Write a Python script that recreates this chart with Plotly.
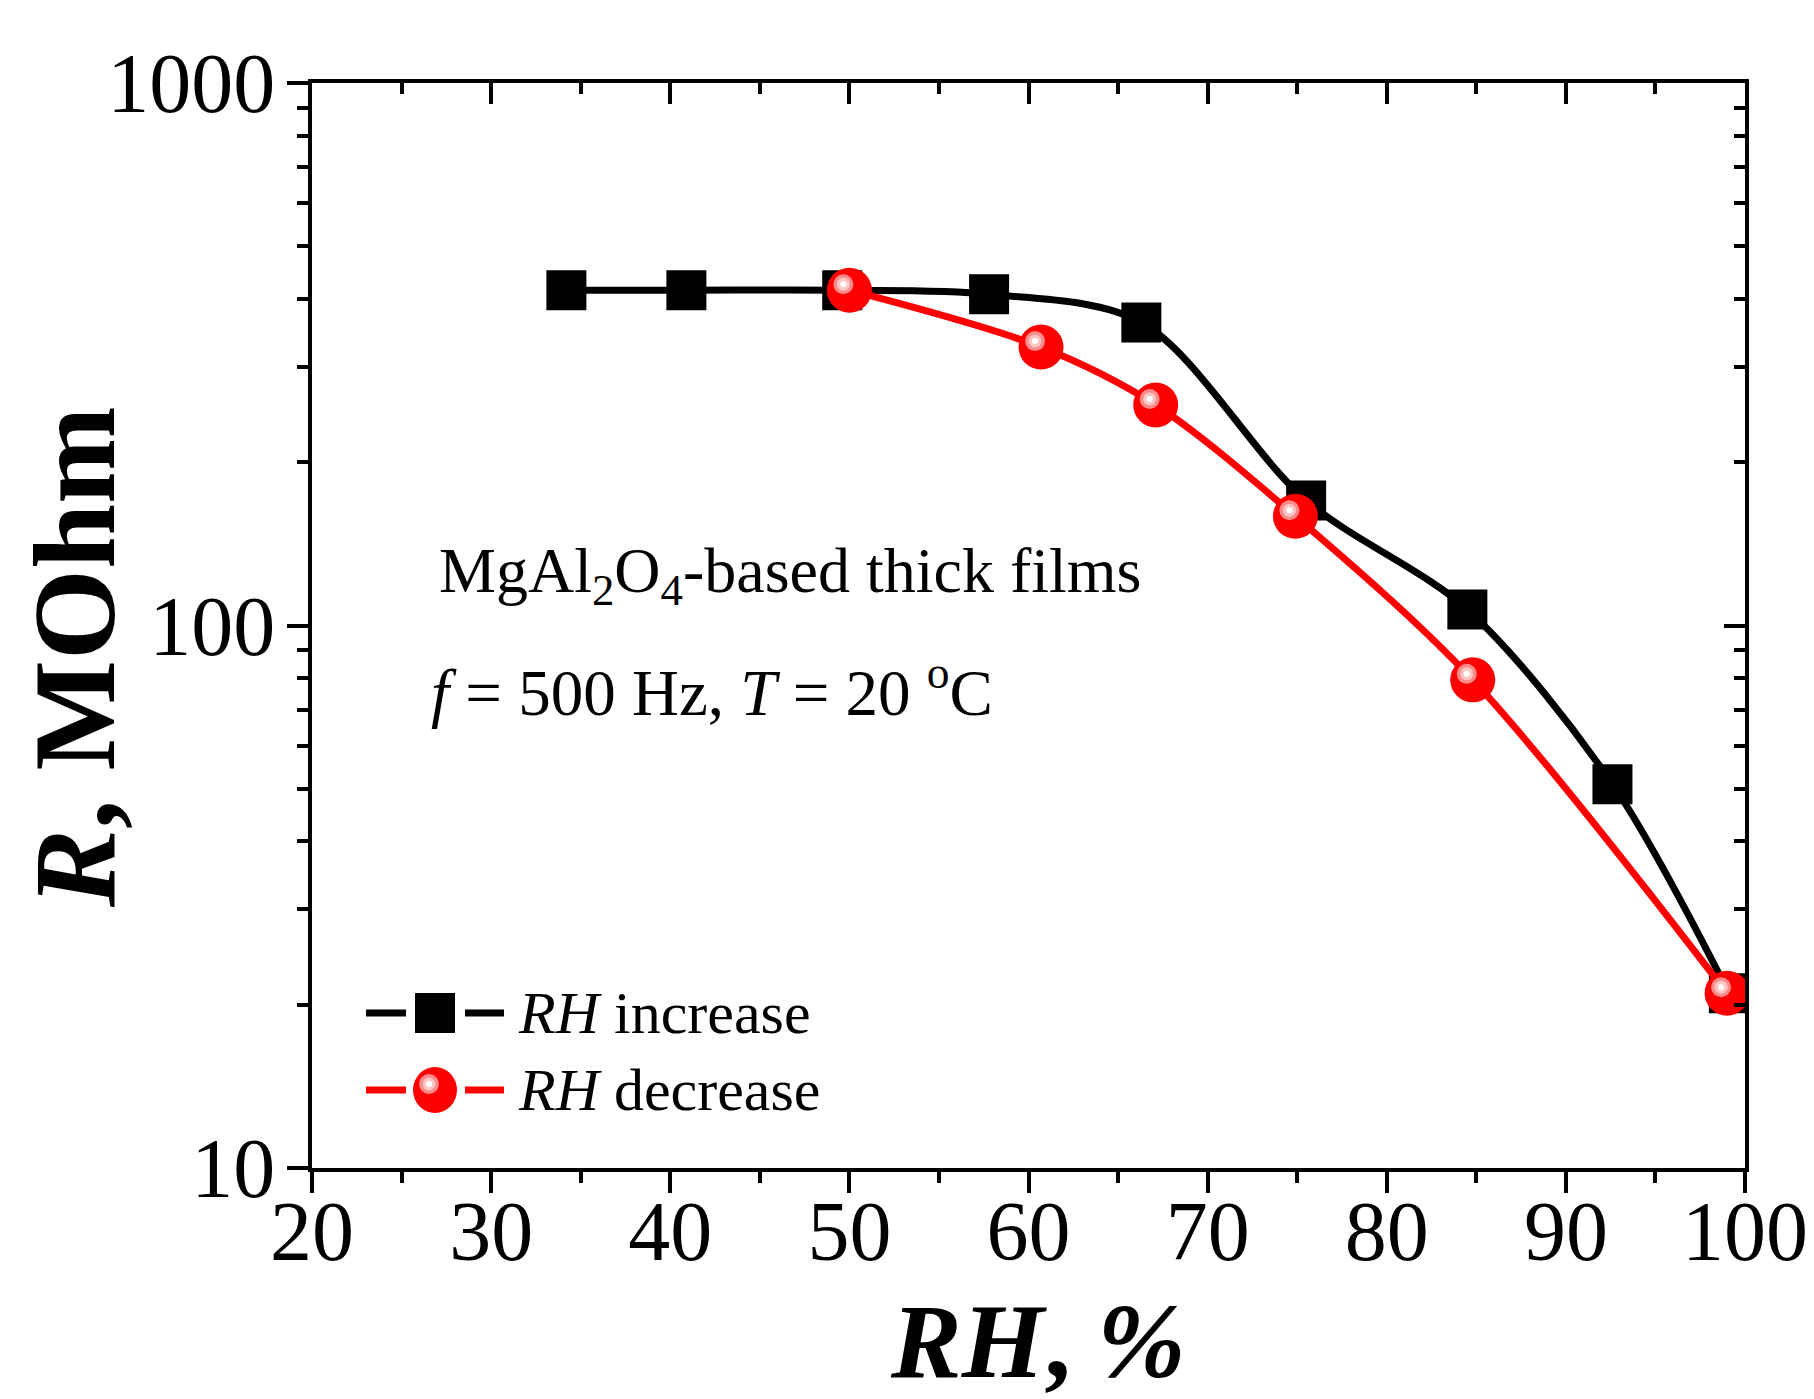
import plotly.graph_objects as go

# ---- data ----
rh_inc = [34.2, 40.9, 49.6, 57.8, 66.3, 75.5, 84.5, 92.6, 99.1]
r_inc = [415, 415, 415, 408, 362, 170, 107, 51, 21]
rh_dec = [50.0, 60.7, 67.1, 74.9, 84.8, 99.0]
r_dec = [415, 326, 255, 159, 79.4, 21]
x_ticks = [20, 30, 40, 50, 60, 70, 80, 90, 100]
x_minor = [25, 35, 45, 55, 65, 75, 85, 95]
y_ticks = [10, 100, 1000]
y_ticktext = ["10", "100", "1000"]
y_minor = [20, 30, 40, 50, 60, 70, 80, 90, 200, 300, 400, 500, 600, 700, 800, 900]
series_names = ["<i>RH</i> increase", "<i>RH</i> decrease"]

FONT = "Liberation Serif"
W, H = 1814, 1399
L, R, T, B = 304, 77, 75, 239
pw, ph = W - L - R, H - T - B
XR = [20, 100]
YR = [1, 3]
RED = "#ff0000"
HL = [(20, "#ff8a8a"), (13, "#ffc6c6"), (6, "#ffffff")]
# highlight offset (pixels) for the glossy circles
off_px = 6
dx = off_px * (XR[1] - XR[0]) / pw
dy = off_px * (YR[1] - YR[0]) / ph


def px(x):
    return (x - L) / pw


def py(y):
    return (H - B - y) / ph


fig = go.Figure()
fig.add_trace(go.Scatter(
    x=rh_inc, y=r_inc, mode="lines+markers", name=series_names[0],
    line=dict(color="black", width=7, shape="spline", smoothing=0.9),
    marker=dict(symbol="square", size=40, color="black"),
))
fig.add_trace(go.Scatter(
    x=rh_dec, y=r_dec, mode="lines+markers", name=series_names[1],
    line=dict(color=RED, width=7, shape="spline", smoothing=0.9),
    marker=dict(symbol="circle", size=45, color=RED),
))
for sz, col in HL:
    fig.add_trace(go.Scatter(
        x=rh_dec, y=r_dec, mode="markers", showlegend=False, hoverinfo="skip",
        xaxis="x2", yaxis="y2",
        marker=dict(symbol="circle", size=sz, color=col),
    ))
fig.add_trace(go.Scatter(x=[None], y=[None], xaxis="x3", yaxis="y3",
                         showlegend=False, hoverinfo="skip"))
fig.add_trace(go.Scatter(x=[None], y=[None], xaxis="x4", yaxis="y",
                         showlegend=False, hoverinfo="skip"))

tickfont = dict(family=FONT, size=84, color="black")
common = dict(showgrid=False, zeroline=False, linecolor="black", linewidth=4,
              tickcolor="black", tickwidth=4, showline=True)

fig.update_layout(
    width=W, height=H,
    margin=dict(l=L, r=R, t=T, b=B, pad=0),
    paper_bgcolor="white", plot_bgcolor="white",
    font=dict(family=FONT, color="black"),
    showlegend=False,
    xaxis=dict(range=XR, tickvals=x_ticks, ticks="outside", ticklen=21,
               showticklabels=False,
               minor=dict(tickvals=x_minor, ticks="outside", ticklen=11,
                          tickwidth=4, tickcolor="black"),
               **common),
    xaxis4=dict(overlaying="x", anchor="free", position=0, side="bottom",
                range=XR, tickvals=x_ticks, ticks="", showline=False, showgrid=False,
                zeroline=False, tickfont=tickfont, ticklabelstandoff=7),
    yaxis=dict(type="log", range=YR, tickvals=y_ticks, ticktext=y_ticktext,
               ticks="outside", ticklen=21, tickfont=tickfont, ticklabelstandoff=-5,
               minor=dict(tickvals=y_minor, ticks="outside", ticklen=11,
                          tickwidth=4, tickcolor="black"),
               **common),
    xaxis2=dict(overlaying="x", range=[XR[0] + dx, XR[1] + dx], visible=False),
    yaxis2=dict(overlaying="y", type="log", range=[YR[0] - dy, YR[1] - dy], visible=False),
    xaxis3=dict(overlaying="x", anchor="y3", side="top", range=XR, tickvals=x_ticks,
                ticks="inside", ticklen=21, showticklabels=False,
                minor=dict(tickvals=x_minor, ticks="inside", ticklen=11,
                           tickwidth=4, tickcolor="black"),
                **common),
    yaxis3=dict(overlaying="y", anchor="x3", side="right", type="log", range=YR,
                tickvals=y_ticks, ticks="inside", ticklen=21, showticklabels=False,
                minor=dict(tickvals=y_minor, ticks="inside", ticklen=11,
                           tickwidth=4, tickcolor="black"),
                **common),
)

# ---- custom legend (symbols larger than plotly's legend allows) ----
shapes = []
rows = [(1005, "black", "square"), (1082, RED, "circle")]
for yrow, col, sym in rows:
    for a, b in [(358, 398), (457, 496)]:
        shapes.append(dict(type="line", xref="paper", yref="paper",
                           x0=px(a), x1=px(b), y0=py(yrow), y1=py(yrow),
                           line=dict(color=col, width=7)))
    cx = px(427)
    if sym == "square":
        shapes.append(dict(type="rect", xref="paper", yref="paper",
                           xsizemode="pixel", ysizemode="pixel",
                           xanchor=cx, yanchor=py(yrow),
                           x0=-20, x1=20, y0=-20, y1=20,
                           fillcolor="black", line=dict(width=0)))
    else:
        shapes.append(dict(type="circle", xref="paper", yref="paper",
                           xsizemode="pixel", ysizemode="pixel",
                           xanchor=cx, yanchor=py(yrow),
                           x0=-22, x1=22, y0=-23, y1=23,
                           fillcolor=RED, line=dict(width=0)))
        for sz, c in HL:
            r = sz / 2
            shapes.append(dict(type="circle", xref="paper", yref="paper",
                               xsizemode="pixel", ysizemode="pixel",
                               xanchor=cx, yanchor=py(yrow),
                               x0=-off_px - r, x1=-off_px + r,
                               y0=off_px - r, y1=off_px + r,
                               fillcolor=c, line=dict(width=0)))

annots = [
    dict(text="MgAl<sub>2</sub>O<sub>4</sub>-based thick films", x=px(429),
         y=py(567), xanchor="left", yanchor="middle", font=dict(size=64)),
    dict(text="<i>f</i> = 500 Hz, <i>T</i> = 20 <sup>o</sup>C", x=px(421),
         y=py(680), xanchor="left", yanchor="middle", font=dict(size=65)),
    dict(text="<b><i>RH</i>, <i>%</i></b>", x=px(1029), y=py(1333),
         xanchor="center", yanchor="middle", font=dict(size=106)),
    dict(text="<b><i>R</i>, MOhm</b>", x=px(66), y=py(649),
         xanchor="center", yanchor="middle", textangle=-90, font=dict(size=117)),
]
for (yrow, _, _), name in zip(rows, series_names):
    annots.append(dict(text=name, x=px(508), y=py(yrow), xanchor="left",
                       yanchor="middle", font=dict(size=60)))
for a in annots:
    a.update(xref="paper", yref="paper", showarrow=False)
    a["font"] = dict(family=FONT, color="black", **a["font"])
fig.update_layout(annotations=annots, shapes=shapes)

fig.write_html("out.html")
